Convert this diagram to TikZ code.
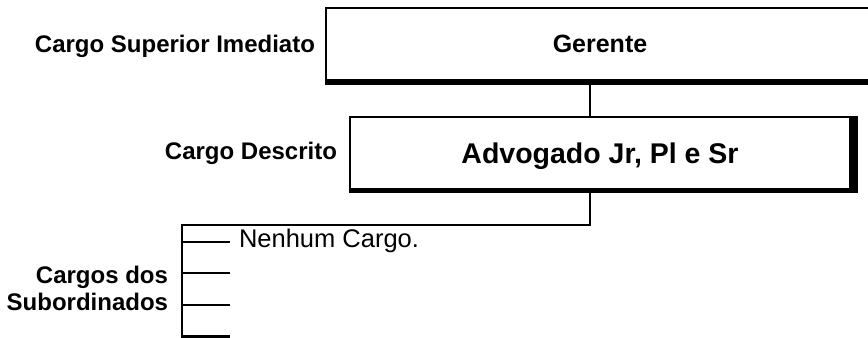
\documentclass[tikz,border=0pt]{standalone}
\usepackage{fontspec}
\setmainfont{Liberation Sans}
\usetikzlibrary{arrows}
\usetikzlibrary{shapes}

\tikzset{
  cargobox/.style={draw=strokecol,line width=2bp,rectangle,inner sep=0pt,outer sep=0pt,text depth=0pt},
  rotulo/.style={inner sep=0pt,outer sep=0pt,font=\fontsize{24bp}{27bp}\selectfont\bfseries},
}

\begin{document}
\begin{tikzpicture}[line join=miter,line width=2bp]
%%
  \definecolor{strokecol}{rgb}{0.0,0.0,0.0};
  \clip (0bp,0bp) rectangle (868bp,338bp);
  \fill [white] (0bp,0bp) rectangle (868bp,338bp);
  \node (superior) at (315bp,285bp) [rotulo,anchor=base east] {Cargo Superior Imediato};
  \node (descrito) at (337bp,178bp) [rotulo,anchor=base east] {Cargo Descrito};
  \node (subordinados) at (168bp,49.25bp) [rotulo,anchor=east,align=right] {Cargos dos\\Subordinados};
  \node (gerente) at (600bp,294bp) [cargobox,minimum width=548bp,minimum height=72bp,font=\fontsize{25bp}{30bp}\selectfont\bfseries] {Gerente};
  \node (advogado) at (600bp,185bp) [cargobox,minimum width=500bp,minimum height=72bp,font=\fontsize{28.5bp}{34bp}\selectfont\bfseries] {Advogado Jr, Pl e Sr};
  \node (nenhum) at (238bp,90bp) [inner sep=0pt,anchor=base west,font=\fontsize{25.5bp}{30bp}\selectfont] {Nenhum Cargo.};
  % heavy box edges
  \fill [strokecol] ([xshift=-1bp]gerente.south west) rectangle ([yshift=-5bp]gerente.south east);
  \fill [strokecol] ([xshift=-1bp]advogado.south west) rectangle ([xshift=8bp,yshift=-4bp]advogado.south east);
  \fill [strokecol] ([yshift=1bp]advogado.north east) rectangle ([xshift=8bp,yshift=-4bp]advogado.south east);
  \coordinate (ramo0) at (182bp,113bp);
  \coordinate (ramo1) at (182bp,96bp);
  \coordinate (ramo2) at (182bp,65bp);
  \coordinate (ramo3) at (182bp,33bp);
  \coordinate (ramo4) at (182bp,1.5bp);
  \coordinate (ponta1) at (230bp,96bp);
  \coordinate (ponta2) at (230bp,65bp);
  \coordinate (ponta3) at (230bp,33bp);
  \coordinate (ponta4) at (230bp,1.5bp);
  \draw [strokecol] ([xshift=-10bp]gerente.south) -- ([xshift=-10bp]advogado.north);
  \draw [strokecol] ([xshift=-10bp]advogado.south) |- (ramo0) -- (ramo4) -- (ponta4);
  \draw [strokecol] (ramo1) -- (ponta1);
  \draw [strokecol] (ramo2) -- (ponta2);
  \draw [strokecol] (ramo3) -- (ponta3);
%
\end{tikzpicture}
\end{document}
